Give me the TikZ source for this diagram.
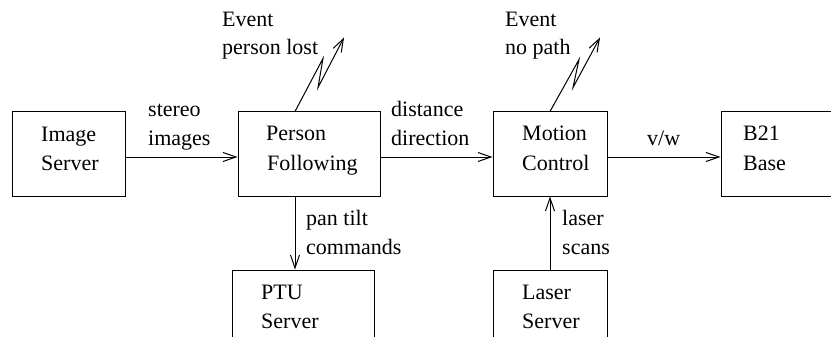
\documentclass[tikz,border=0pt]{standalone}
\usepackage{fontspec}
\setmainfont{Liberation Serif}
\usetikzlibrary{arrows.meta}
\begin{document}
\begin{tikzpicture}[x=1pt,y=-1pt,
  box/.style={draw,line width=1pt,inner sep=0pt},
  arr/.style={line width=1pt,-{Straight Barb[length=13pt,width=9pt,line width=1pt]}},
  lbl/.style={anchor=base west,inner sep=0pt,font=\rmfamily\fontsize{22}{28}\selectfont}]
\useasboundingbox (0,0) rectangle (831,337);
\clip (0,0) rectangle (831,337);
% boxes
\node[box,minimum width=113pt,minimum height=84pt] (img) at (68.5,154) {};
\node[box,minimum width=142pt,minimum height=84pt] (pf) at (309,154) {};
\node[box,minimum width=114pt,minimum height=84pt] (mc) at (550,154) {};
\node[box,minimum width=114pt,minimum height=84pt] (b21) at (778,154) {};
\node[box,minimum width=142pt,minimum height=84pt] (ptu) at (303,312) {};
\node[box,minimum width=114pt,minimum height=84pt] (laser) at (550,312) {};
% box texts
\node[lbl] (t1) at (41,142) {Image};
\node[lbl] (t2) at (41,170) {Server};
\node[lbl] (t3) at (266,141) {Person};
\node[lbl] (t4) at (267,170) {Following};
\node[lbl] (t5) at (522,141) {Motion};
\node[lbl] (t6) at (522,170) {Control};
\node[lbl] (t7) at (743,141) {B21};
\node[lbl] (t8) at (743,170) {Base};
\node[lbl] (t9) at (261,299) {PTU};
\node[lbl] (t10) at (261,328) {Server};
\node[lbl] (t11) at (522,299) {Laser};
\node[lbl] (t12) at (522,328) {Server};
% connector labels
\node[lbl] (l1) at (148,117) {stereo};
\node[lbl] (l2) at (148,146) {images};
\node[lbl] (l3) at (391,117) {distance};
\node[lbl] (l4) at (391,146) {direction};
\node[lbl] (l5) at (647,146) {v/w};
\node[lbl] (l6) at (306,225) {pan tilt};
\node[lbl] (l7) at (306,254) {commands};
\node[lbl] (l8) at (562,225) {laser};
\node[lbl] (l9) at (562,254) {scans};
\node[lbl] (e1) at (222,27) {Event};
\node[lbl] (e2) at (222,55) {person lost};
\node[lbl] (e3) at (505,27) {Event};
\node[lbl] (e4) at (505,55) {no path};
% connectors
\draw[arr] ([yshift=-3pt]img.east) -- ([yshift=-3pt]pf.west);
\draw[arr] ([yshift=-3pt]pf.east) -- ([yshift=-3pt]mc.west);
\draw[arr] ([yshift=-3pt]mc.east) -- ([yshift=-3pt]b21.west);
\draw[arr] ([xshift=-14pt]pf.south) -- ([xshift=-14pt]pf.south |- ptu.north);
\draw[arr] (laser.north) -- (mc.south);
% event lightning arrows
\draw[arr] ([xshift=-14pt]pf.north) -- ++(28,-53) -- ++(-5,29) -- ++(26,-50);
\draw[arr] (mc.north) -- ++(29,-52) -- ++(-6,28) -- ++(27,-50);
\end{tikzpicture}
\end{document}
